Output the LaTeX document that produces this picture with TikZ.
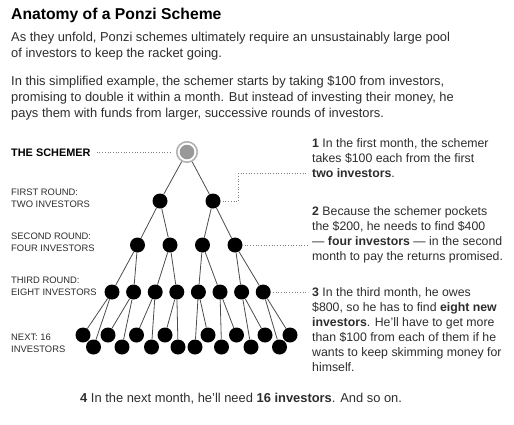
\documentclass[tikz,border=0pt]{standalone}
\usepackage{fontspec}
\setmainfont{Liberation Sans}
\definecolor{inkgray}{RGB}{45,45,45}

\tikzset{
  inv/.style={circle, fill=black, minimum size=15pt, inner sep=0pt},
  hub/.style={circle, draw=black!30, line width=1.6pt, fill=white, minimum size=20.5pt, inner sep=0pt,
    path picture={\fill[black!40] (path picture bounding box.center) circle (7.3pt);}},
  link/.style={draw=black!70, line width=0.8pt},
  guide/.style={draw=black!50, dotted, line width=0.7pt},
  headline/.style={anchor=base west, inner sep=0pt, font=\fontsize{15.7}{18}\selectfont\bfseries},
  intro/.style={anchor=base west, inner sep=0pt, align=left, text=inkgray, font=\fontsize{12.9}{15.7}\selectfont},
  rowlabel/.style={anchor=base west, inner sep=0pt, align=left, text=inkgray, font=\fontsize{9.4}{11.8}\selectfont},
  blurb/.style={anchor=base west, inner sep=0pt, align=left, text=inkgray, font=\fontsize{12.3}{15}\selectfont},
}

\begin{document}
\begin{tikzpicture}[x=1pt, y=-1pt]
\useasboundingbox (0,0) rectangle (514,424);

% heading and intro (multi-line nodes sit on their last baseline)
\node[headline] (title) at (11,19) {Anatomy of a Ponzi Scheme};
\node[intro] (introA) at (11,57) {As they unfold, Ponzi schemes ultimately require an unsustainably large pool\\
  of investors to keep the racket going.};
\node[intro] (introB) at (11,117) {In this simplified example, the schemer starts by taking \$100 from investors,\\
  promising to double it within a month. But instead of investing their money, he\\
  pays them with funds from larger, successive rounds of investors.};

% row labels
\node[rowlabel, font=\fontsize{10.9}{12}\selectfont\bfseries, text=black] (lblS) at (11,156) {THE SCHEMER};
\node[rowlabel] (lblA) at (11,207) {FIRST ROUND:\\TWO INVESTORS};
\node[rowlabel] (lblB) at (11,251.5) {SECOND ROUND:\\FOUR INVESTORS};
\node[rowlabel] (lblC) at (11,295) {THIRD ROUND:\\EIGHT INVESTORS};
\node[rowlabel] (lblD) at (11,352.5) {NEXT: 16\\INVESTORS};

% the pyramid
\node[hub] (s) at (187,152) {};
\foreach \x [count=\i] in {160,213}
  \node[inv] (a\i) at (\x,201) {};
\foreach \x [count=\i] in {137.5,170,202.5,235}
  \node[inv] (b\i) at (\x,245) {};
\foreach \x [count=\i] in {112,133.6,155.2,176.8,198.4,220,241.6,263.2}
  \node[inv] (c\i) at (\x,292) {};
\foreach \x [count=\i] in {83,108,136.5,165,208,236.5,265,290}
  \node[inv] (u\i) at (\x,335) {};
\foreach \x [count=\i] in {93.5,122,151.5,178,195,221.5,251,279.5}
  \node[inv] (l\i) at (\x,347) {};

\draw[link] (s) -- (a1) (s) -- (a2);
\foreach \p/\c in {1/1,1/2,2/3,2/4}
  \draw[link] (a\p) -- (b\c);
\foreach \p/\c in {1/1,1/2,2/3,2/4,3/5,3/6,4/7,4/8}
  \draw[link] (b\p) -- (c\c);
\foreach \i in {1,...,8}
  \draw[link] (c\i) -- (u\i) (c\i) -- (l\i);

% notes on the right
\node[blurb] (note1) at (312,177) {\textbf{1} In the first month, the schemer\\
  takes \$100 each from the first\\
  \textbf{two investors}.};
\node[blurb] (note2) at (312,260) {\textbf{2} Because the schemer pockets\\
  the \$200, he needs to find \$400\\
  --- \textbf{four investors} --- in the second\\
  month to pay the returns promised.};
\node[blurb] (note3) at (312,371) {\textbf{3} In the third month, he owes\\
  \$800, so he has to find \textbf{eight new}\\
  \textbf{investors}. He'll have to get more\\
  than \$100 from each of them if he\\
  wants to keep skimming money for\\
  himself.};
\node[blurb, font=\fontsize{12.9}{15}\selectfont] (note4) at (80,402) {\textbf{4} In the next month, he'll need \textbf{16 investors}. And so on.};

% dotted leaders
\coordinate (k1) at (308,173);
\coordinate (k2) at (308,244);
\coordinate (k3) at (308,292);
\draw[guide] ([xshift=6pt]s.west -| lblS.east) -- ([xshift=-5pt]s.west);
\draw[guide] ([xshift=2pt]a2.east) -- ++(16,0) |- (k1);
\draw[guide] ([xshift=2pt]b4.east) -- (b4 -| k2);
\draw[guide] ([xshift=2pt]c8.east) -- (c8 -| k3);

\end{tikzpicture}
\end{document}
